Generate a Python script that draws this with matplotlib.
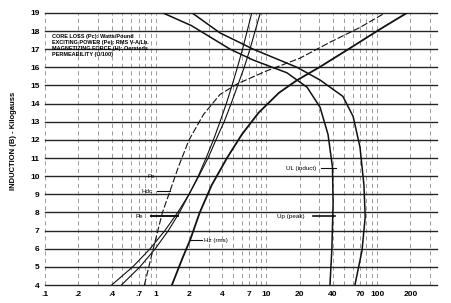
import numpy as np
import matplotlib
matplotlib.use("Agg")
import matplotlib.pyplot as plt

# x ticks (log scale) and y range
x_ticks = [0.1, 0.2, 0.4, 0.7, 1, 2, 4, 7, 10, 20, 40, 70, 100, 200]
x_tick_labels = [".1", ".2", ".4", ".7", "1", "2", "4", "7", "10", "20", "40", "70", "100", "200"]
y_ticks = list(range(4, 20))

# core loss and exciting power: (x value, induction kG)
pc_x = [0.40, 0.62, 0.89, 1.21, 1.58, 2.0, 2.45, 2.97, 3.5, 4.15, 4.8, 5.5, 6.3, 7.1, 7.9, 8.8]
pc_y = [4, 5, 6, 7, 8, 9, 10, 11, 12, 13, 14, 15, 16, 17, 18, 19]

pe_x = [0.49, 0.72, 0.99, 1.30, 1.64, 2.0, 2.42, 2.85, 3.32, 3.81, 4.34, 4.89, 5.47, 6.08, 6.7, 7.37]
pe_y = [4, 5, 6, 7, 8, 9, 10, 11, 12, 13, 14, 15, 16, 17, 18, 19]

# magnetizing force
hdc_x = [0.79, 0.95, 1.15, 1.35, 1.6, 2.0, 2.7, 3.8, 5.5, 10, 20, 38, 70, 118]
hdc_y = [4, 6, 8, 9.2, 10.5, 12, 13.4, 14.5, 15.1, 15.8, 16.5, 17.4, 18.2, 19]

hz_x = [1.4, 1.75, 2.05, 2.5, 3.2, 4.4, 6.0, 8.5, 13, 19, 30, 55, 106, 186]
hz_y = [4, 5.5, 6.5, 8, 9.5, 11, 12.3, 13.5, 14.6, 15.3, 16.0, 17.0, 18.1, 19]

# permeability curves
up_x = [1.16, 2.1, 4.7, 7.6, 15.3, 23.3, 30.5, 36, 39.5, 40, 39, 37.5]
up_y = [19, 18.3, 17.0, 16.4, 15.7, 14.9, 13.8, 12.3, 10.5, 8.5, 6, 4]

ul_x = [2.13, 3.8, 7.6, 18.9, 30.5, 49, 60.6, 70, 76, 78, 73, 63]
ul_y = [19, 17.9, 17.0, 16.0, 15.3, 14.4, 13.3, 11.6, 9.5, 7.75, 5.9, 4]

legend_lines = [
    "CORE LOSS (Pc): Watts/Pound",
    "EXCITING POWER (Pe): RMS V-A/Lb.",
    "MAGNETIZING FORCE (H): Oersteds",
    "PERMEABILITY (U/100)",
]

plt.rcParams["font.family"] = ["Liberation Sans", "DejaVu Sans"]

fig = plt.figure(figsize=(4.51, 3.03), dpi=100)
fig.patch.set_facecolor("white")
ax = fig.add_axes([0.0998, 0.0594, 0.870, 0.898])
ax.set_xscale("log")
ax.set_xlim(0.1, 350)
ax.set_ylim(4, 19)

# vertical broken grid at log positions
for dec in [0.1, 1, 10, 100]:
    for m in range(1, 10):
        v = dec * m
        if v < 0.1 or v > 350:
            continue
        ax.axvline(v, color="#8a8a8a", lw=0.6, ls=(0, (5, 4)), zorder=1)

# horizontal solid grid
for yv in y_ticks:
    ax.axhline(yv, color="#262626", lw=1.0, zorder=2, clip_on=False)

for xs, ys, lw, ls in [
    (pc_x, pc_y, 0.8, "-"),
    (pe_x, pe_y, 0.8, "-"),
    (hdc_x, hdc_y, 0.8, (0, (6, 2))),
    (hz_x, hz_y, 1.3, "-"),
    (up_x, up_y, 1.1, "-"),
    (ul_x, ul_y, 1.1, "-"),
]:
    ax.plot(xs, ys, color="#111111", lw=lw, ls=ls, zorder=3, solid_capstyle="round")

for s in ax.spines.values():
    s.set_visible(False)

ax.set_xticks(x_ticks)
ax.set_xticklabels(x_tick_labels)
ax.set_xticks([], minor=True)
ax.set_yticks(y_ticks)
ax.tick_params(length=0, labelsize=6, pad=4)
for lab in ax.get_xticklabels() + ax.get_yticklabels():
    lab.set_fontweight("bold")

ax.set_ylabel("INDUCTION (B) - Kilogauss", fontsize=5.5, fontweight="bold", labelpad=8)
ax.yaxis.set_label_coords(-0.072, 0.53)

for i, line in enumerate(legend_lines):
    ax.text(0.116, 17.68 - 0.33 * i, line, fontsize=4, fontweight="bold",
            va="center", ha="left", zorder=4)

fs = 4.5
ax.text(0.84, 10.0, "Pc", fontsize=fs, va="center")
ax.text(0.75, 9.18, "Hdc", fontsize=fs, va="center")
ax.plot([1.03, 1.35], [9.18, 9.18], color="#111111", lw=0.8)
ax.text(0.65, 7.8, "Pe", fontsize=fs, va="center")
ax.plot([0.905, 1.59], [7.8, 7.8], color="#111111", lw=1.4)
ax.text(2.73, 6.48, "Hz (rms)", fontsize=fs, va="center")
ax.plot([2.05, 2.62], [6.48, 6.48], color="#111111", lw=0.8)
ax.text(15.0, 10.45, "UL (induct)", fontsize=fs, va="center")
ax.plot([31.1, 42.6], [10.45, 10.45], color="#111111", lw=0.8)
ax.text(12.5, 7.8, "Up (peak)", fontsize=fs, va="center")
ax.plot([26.5, 41.5], [7.8, 7.8], color="#111111", lw=1.2)

fig.savefig("out.png", dpi=100, facecolor="white")
